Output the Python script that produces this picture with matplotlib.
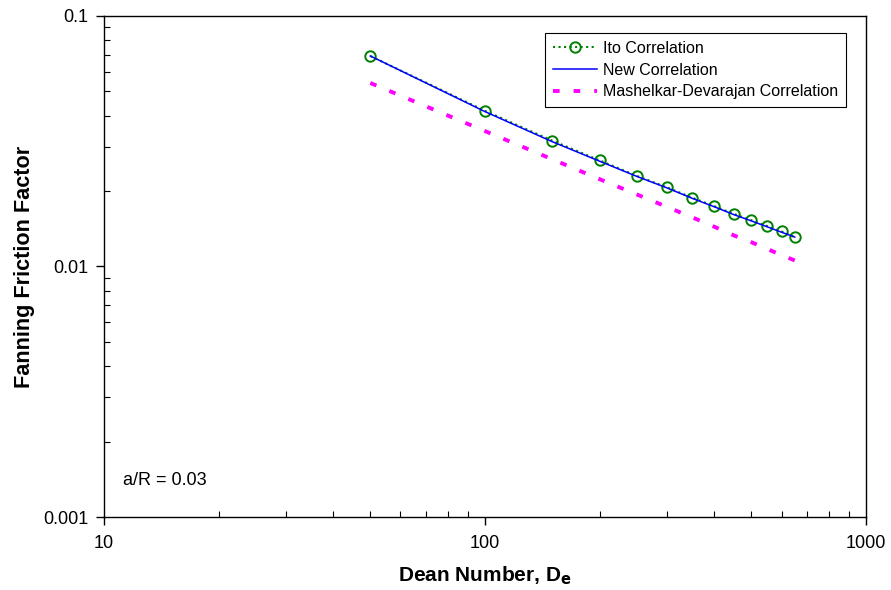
import numpy as np
import matplotlib
matplotlib.use("Agg")
import matplotlib.pyplot as plt
from matplotlib.ticker import LogLocator, NullFormatter, FixedFormatter, FixedLocator

plt.rcParams["font.family"] = ["Liberation Sans", "DejaVu Sans"]

# Dean numbers
dean = [50, 100, 150, 200, 250, 300, 350, 400, 450, 500, 550, 600, 650]
# Ito correlation (markers + dotted line)
f_ito = [0.0692, 0.0418, 0.0318, 0.0265, 0.0230, 0.0207, 0.0188, 0.0174,
         0.0162, 0.0153, 0.0145, 0.0138, 0.0131]
# New correlation
f_new = [0.0692, 0.0415, 0.0315, 0.0263, 0.0229, 0.0206, 0.0187, 0.0173,
         0.0161, 0.0152, 0.0144, 0.0137, 0.0131]
# Mashelkar-Devarajan correlation
f_md = [0.0540, 0.0347, 0.0268, 0.0223, 0.0194, 0.0173, 0.0157, 0.0144,
        0.0133, 0.0125, 0.01175, 0.0111, 0.01057]

fig = plt.figure(figsize=(8.91, 5.90), dpi=100)
ax = fig.add_axes([0.1167, 0.1237, 0.8553, 0.8493])

ax.plot(dean, f_ito, ls=":", color="#008000", lw=1.5, marker="o", ms=7.5,
        mfc="none", mec="#008000", mew=1.4, label="Ito Correlation", zorder=3)
ax.plot(dean, f_new, ls="-", color="#0000ff", lw=1.1, label="New Correlation", zorder=4)
ax.plot(dean, f_md, ls=(0, (1.7, 3.6)), color="#ff00ff", lw=2.8,
        label="Mashelkar-Devarajan Correlation", zorder=2)

ax.set_xscale("log"); ax.set_yscale("log")
ax.set_xlim(10, 1000); ax.set_ylim(0.001, 0.1)

ax.xaxis.set_major_locator(FixedLocator([10, 100, 1000]))
ax.xaxis.set_major_formatter(FixedFormatter(["10", "100", "1000"]))
ax.yaxis.set_major_locator(FixedLocator([0.001, 0.01, 0.1]))
ax.yaxis.set_major_formatter(FixedFormatter(["0.001", "0.01", "0.1"]))
ax.xaxis.set_minor_locator(LogLocator(base=10, subs=np.arange(2, 10)))
ax.yaxis.set_minor_locator(LogLocator(base=10, subs=np.arange(2, 10)))
ax.xaxis.set_minor_formatter(NullFormatter()); ax.yaxis.set_minor_formatter(NullFormatter())
ax.tick_params(which="major", direction="out", length=6, width=1, labelsize=13, color="black")
ax.tick_params(axis="x", which="major", pad=7)
ax.tick_params(axis="y", which="major", pad=5)
ax.tick_params(which="minor", direction="in", length=4, width=0.8)
for s in ax.spines.values():
    s.set_linewidth(1.0)

ax.set_xlabel(r"Dean Number, D$_\mathbf{e}$", fontsize=15, fontweight="bold", labelpad=9)
ax.set_ylabel("Fanning Friction Factor", fontsize=15.6, fontweight="bold", labelpad=6)

ax.text(0.025, 0.072, "a/R = 0.03", transform=ax.transAxes, fontsize=13, va="center")

leg = ax.legend(loc="upper right", bbox_to_anchor=(0.9738, 0.966), borderaxespad=0,
                fontsize=11.5, frameon=True, fancybox=False, edgecolor="black", framealpha=1,
                handlelength=2.8, handletextpad=0.35, borderpad=0.5, labelspacing=0.42)
leg.get_frame().set_linewidth(0.8)

fig.savefig("out.png", dpi=100)
